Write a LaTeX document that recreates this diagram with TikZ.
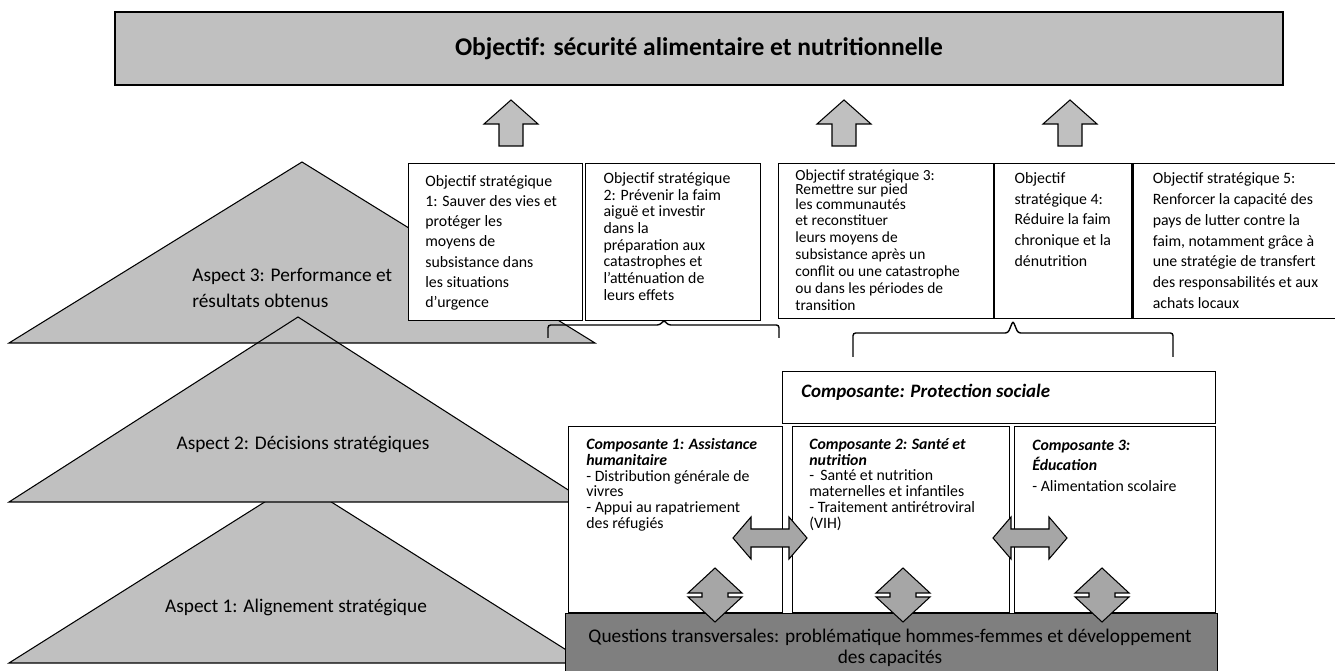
\documentclass[tikz,border=0pt]{standalone}
\usepackage{fontspec}
\setmainfont{Carlito}
\usepackage{tikz}
\usetikzlibrary{positioning}
\definecolor{trigray}{HTML}{C0C0C0}
\definecolor{arrowgray}{HTML}{A6A6A6}
\definecolor{qgray}{HTML}{7F7F7F}
\newcommand{\pxu}{0.02cm}

\begin{document}
\begin{tikzpicture}[x=0.02cm,y=-0.02cm,every node/.style={inner sep=0pt},
tri/.style={fill=trigray}, triline/.style={draw=black, line width=0.6pt},
objbox/.style={draw=black, fill=white, line width=0.7pt, anchor=north west},
objtext/.style={anchor=north west, align=left, font=\fontsize{9}{11.6}\selectfont},
comptext/.style={anchor=north west, align=left, font=\fontsize{9}{9}\selectfont},
aspecttext/.style={align=left, font=\fontsize{11}{15}\selectfont},
brace/.style={draw=black, line width=0.8pt, rounded corners=1.5pt},
blockarrow/.style={draw=black, line width=0.6pt},
uparrow/.pic={\path[blockarrow, fill=trigray] (0,0) -- (27,24) -- (12,24) -- (12,46) -- (-12,46) -- (-12,24) -- (-27,24) -- cycle;},
sidearrow/.pic={\path[blockarrow, fill=arrowgray] (-37,0) -- (-19,-21) -- (-19,-9) -- (19,-9) -- (19,-21) -- (37,0) -- (19,21) -- (19,9) -- (-19,9) -- (-19,21) -- cycle;},
updownarrow/.pic={\path[blockarrow, fill=arrowgray] (0,-27) -- (27,-2) -- (13,-2) -- (13,2) -- (27,2) -- (0,27) -- (-27,2) -- (-13,2) -- (-13,-2) -- (-27,-2) -- cycle;}]
\useasboundingbox (0,0) rectangle (1335,671);

% the three aspects
\path[tri, triline] (298,481) -- (587,663) -- (9,663) -- cycle;
\path[tri] (298,317) -- (587,502) -- (9,502) -- cycle;
\path[tri] (302,162) -- (595,343) -- (9,343) -- cycle;
\path[triline] (298,317) -- (587,502) -- (9,502) -- cycle;
\path[triline] (302,162) -- (595,343) -- (9,343) -- cycle;
\node[aspecttext, anchor=west] (asp3) at (192,288) {Aspect 3: Performance et\\résultats obtenus};
\node[aspecttext] (asp2) at (303,445) {Aspect 2: Décisions stratégiques};
\node[aspecttext] (asp1) at (296,607) {Aspect 1: Alignement stratégique};

% goal
\node[draw, fill=trigray, line width=1.2pt, minimum width=1168*\pxu, minimum height=73*\pxu, font=\bfseries\fontsize{14.5}{16}\selectfont] (goal) at (699,48.5) {Objectif: sécurité alimentaire et nutritionnelle};
\pic (up1) at (511,100) {uparrow};
\pic (up2) at (844,100) {uparrow};
\pic (up3) at (1070,100) {uparrow};

% strategic objectives
\node[objbox, minimum width=174*\pxu, minimum height=157*\pxu] (o1) at (408,163) {};
\node[objbox, minimum width=175*\pxu, minimum height=157*\pxu, anchor=west, right=2*\pxu of o1] (o2) {};
\node[objbox, minimum width=215*\pxu, minimum height=155*\pxu] (o3) at (778,163) {};
\node[objbox, minimum width=137*\pxu, minimum height=155*\pxu, anchor=west, right=0pt of o3] (o4) {};
\node[objbox, minimum width=204*\pxu, minimum height=155*\pxu, anchor=west, right=0pt of o4] (o5) {};
\node[objtext, font=\fontsize{9}{11.5}\selectfont] (o1txt) at ([shift={(17,12)}]o1.north west) {Objectif stratégique\\1: Sauver des vies et\\protéger les\\moyens de\\subsistance dans\\les situations\\d’urgence};
\node[objtext, font=\fontsize{9}{9.5}\selectfont] (o2txt) at ([shift={(18,9)}]o2.north west) {Objectif stratégique\\2: Prévenir la faim\\aiguë et investir\\dans la\\préparation aux\\catastrophes et\\l’atténuation de\\leurs effets};
\node[objtext, font=\fontsize{8.8}{9.6}\selectfont] (o3txt) at ([shift={(17,6)}]o3.north west) {Objectif stratégique 3:\\[-1.2pt]Remettre sur pied\\[-1.2pt]les communautés\\[-0.4pt]et reconstituer\\leurs moyens de\\subsistance après un\\conflit ou une catastrophe\\ou dans les périodes de\\transition};
\node[objtext, font=\fontsize{9}{11.8}\selectfont] (o4txt) at ([shift={(20,9)}]o4.north west) {Objectif\\stratégique 4:\\Réduire la faim\\chronique et la\\dénutrition};
\node[objtext, font=\fontsize{9}{11.9}\selectfont] (o5txt) at ([shift={(20,9)}]o5.north west) {Objectif stratégique 5:\\Renforcer la capacité des\\pays de lutter contre la\\faim, notamment grâce à\\une stratégie de transfert\\des responsabilités et aux\\achats locaux};

\draw[brace] (548,338) -- (548,325) -- (660,325) -- (664,320) -- (668,325) -- (779,325) -- (779,338);
\draw[brace] (853,357) -- (853,333) -- (1008,333) -- (1013,321) -- (1018,333) -- (1173,333) -- (1173,357);

% components
\node[objbox, minimum width=433*\pxu, minimum height=52*\pxu] (prot) at (782,371) {};
\node[anchor=west, font=\bfseries\itshape\fontsize{10.8}{12}\selectfont] (prottxt) at ([shift={(19,-5)}]prot.west) {Composante: Protection sociale};
\node[objbox, minimum width=214*\pxu, minimum height=186*\pxu] (c1) at (568,426) {};
\node[objbox, minimum width=217*\pxu, minimum height=186*\pxu] (c2) at (792,426) {};
\node[objbox, minimum width=201*\pxu, minimum height=186*\pxu] (c3) at (1014,426) {};
\node[comptext] (c1txt) at ([shift={(18,12)}]c1.north west) {\textbf{\textit{Composante 1: Assistance}}\\\textbf{\textit{humanitaire}}\\- Distribution générale de\\vivres\\- Appui au rapatriement\\des réfugiés};
\node[comptext] (c2txt) at ([shift={(17,12)}]c2.north west) {\textbf{\textit{Composante 2: Santé et}}\\\textbf{\textit{nutrition}}\\- \,Santé et nutrition\\maternelles et infantiles\\- Traitement antirétroviral\\(VIH)};
\node[comptext, font=\fontsize{9}{11.5}\selectfont] (c3txt) at ([shift={(18,14)}]c3.north west) {\textbf{\textit{Composante 3:}}\\\textbf{\textit{Éducation}}\\- Alimentation scolaire};
\pic (lr1) at (770,538) {sidearrow};
\pic (lr2) at (1030,538) {sidearrow};

% cross-cutting issues
\node[draw, fill=qgray, line width=0.7pt, anchor=north west, minimum width=652*\pxu, minimum height=60*\pxu] (quest) at (565,613) {};
\node[align=center, font=\fontsize{11}{12}\selectfont] (questtxt) at (890,648) {Questions transversales: problématique hommes-femmes et développement\\des capacités};
\pic (ud1) at (715,595) {updownarrow};
\pic (ud2) at (903,595) {updownarrow};
\pic (ud3) at (1102,595) {updownarrow};
\end{tikzpicture}
\end{document}
